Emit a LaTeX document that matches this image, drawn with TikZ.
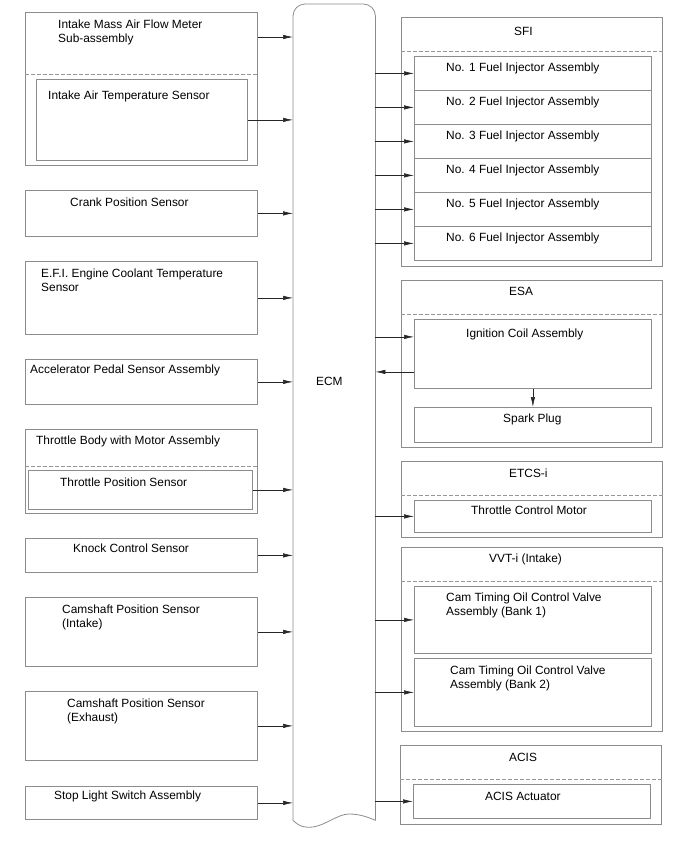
\documentclass[tikz,border=0pt]{standalone}
\usepackage{fontspec}
\setmainfont{Liberation Sans}
\usepackage{tikz}
\usetikzlibrary{positioning,arrows.meta,calc}
\definecolor{framegray}{RGB}{140,140,140}
\definecolor{divgray}{RGB}{150,150,150}

\begin{document}
\begin{tikzpicture}[
  x=1pt,y=-1pt,
  font=\fontsize{11.9}{14}\selectfont,
  unit/.style={rectangle,draw=framegray,line width=0.8pt,inner sep=0pt,anchor=north west,minimum width=#1},
  unit/.default=232,
  part/.style={unit=237},
  txt/.style={anchor=north west,inner sep=0pt,align=left,yshift=-1pt},
  divider/.style={draw=divgray,line width=0.8pt,dash pattern=on 3.5pt off 2.5pt},
  frame/.style={draw=framegray,line width=0.8pt},
  sig/.style={-{Latex[length=10pt,width=4.4pt]},line width=0.6pt,black!85},
]
\useasboundingbox (0,0) rectangle (688,852);

% === ECM ===
\node[inner sep=0pt,minimum width=82,minimum height=816,anchor=north west] (ecm) at (293,4) {};
\draw[frame,rounded corners=12pt] (ecm.south west) -- (ecm.north west) -- (ecm.north east) -- (ecm.south east);
\draw[frame] (ecm.south west) .. controls (300,827) and (306,828) .. (313,827)
  .. controls (326,825) and (338,814) .. (349,814)
  .. controls (359,814) and (368,817) .. (ecm.south east);
\node[txt] (ecm-t) at (316,376) {ECM};

% === LEFT: sensors ===
\node[unit,minimum height=153] (maf) at (25,12) {};
\draw[divider] ($(maf.north west)+(0,62)$) -- ($(maf.north east)+(0,62)$);
\node[unit=211,minimum height=81] (iat) at (36,79) {};
\node[txt] (maf-t) at (58,19) {Intake Mass Air Flow Meter\\Sub-assembly};
\node[txt] (iat-t) at (48,90) {Intake Air Temperature Sensor};

\node[unit,minimum height=46] (crank) at (25,190) {};
\node[txt] (crank-t) at (70,197) {Crank Position Sensor};

\node[unit,minimum height=73] (ect) at (25,261) {};
\node[txt] (ect-t) at (41,268) {E.F.I. Engine Coolant Temperature\\Sensor};

\node[unit,minimum height=45] (accel) at (25,359) {};
\node[txt] (accel-t) at (30,364) {Accelerator Pedal Sensor Assembly};

\node[unit,minimum height=84] (tbody) at (25,429) {};
\draw[divider] ($(tbody.north west)+(0,37)$) -- ($(tbody.north east)+(0,37)$);
\node[unit=224,minimum height=39] (tps) at (28,470) {};
\node[txt] (tbody-t) at (36,435) {Throttle Body with Motor Assembly};
\node[txt] (tps-t) at (60,477) {Throttle Position Sensor};

\node[unit,minimum height=34] (knock) at (25,538) {};
\node[txt] (knock-t) at (73,543) {Knock Control Sensor};

\node[unit,minimum height=69] (camin) at (25,597) {};
\node[txt] (camin-t) at (62,604) {Camshaft Position Sensor\\(Intake)};

\node[unit,minimum height=69] (camex) at (25,691) {};
\node[txt] (camex-t) at (67,698) {Camshaft Position Sensor\\(Exhaust)};

\node[unit,minimum height=33] (stop) at (25,786) {};
\node[txt] (stop-t) at (54,790) {Stop Light Switch Assembly};

% === RIGHT: SFI ===
\node[unit=261,minimum height=249] (sfi) at (401,17) {};
\draw[divider] ($(sfi.north west)+(0,34)$) -- ($(sfi.north east)+(0,34)$);
\node[txt] (sfi-t) at (514,26) {SFI};
\foreach \i in {1,...,6} {
  \node[part,minimum height=34] (inj\i) at (414,{56+34*(\i-1)}) {};
  \node[txt] (inj\i-t) at (446,{62+34*(\i-1)}) {No. \i\ Fuel Injector Assembly};
}

% === RIGHT: ESA ===
\node[unit=261,minimum height=167] (esa) at (401,280) {};
\draw[divider] ($(esa.north west)+(0,34)$) -- ($(esa.north east)+(0,34)$);
\node[txt] (esa-t) at (509,286) {ESA};
\node[part,minimum height=69] (coil) at (414,319) {};
\node[txt] (coil-t) at (466,328) {Ignition Coil Assembly};
\node[part,minimum height=35] (plug) at (414,407) {};
\node[txt] (plug-t) at (503,413) {Spark Plug};

% === RIGHT: ETCS-i ===
\node[unit=261,minimum height=76] (etcs) at (401,461) {};
\draw[divider] ($(etcs.north west)+(0,34)$) -- ($(etcs.north east)+(0,34)$);
\node[txt] (etcs-t) at (509,468) {ETCS-i};
\node[part,minimum height=32] (tcm) at (414,500) {};
\node[txt] (tcm-t) at (471,505) {Throttle Control Motor};

% === RIGHT: VVT-i ===
\node[unit=261,minimum height=184] (vvt) at (401,547) {};
\draw[divider] ($(vvt.north west)+(0,34)$) -- ($(vvt.north east)+(0,34)$);
\node[txt] (vvt-t) at (489,553) {VVT-i (Intake)};
\node[part,minimum height=67] (bank1) at (414,586) {};
\node[txt] (bank1-t) at (446,592) {Cam Timing Oil Control Valve\\Assembly (Bank 1)};
\node[part,minimum height=68] (bank2) at (414,658) {};
\node[txt] (bank2-t) at (450,665) {Cam Timing Oil Control Valve\\Assembly (Bank 2)};

% === RIGHT: ACIS ===
\node[unit=261,minimum height=79] (acis) at (400,745) {};
\draw[divider] ($(acis.north west)+(0,34)$) -- ($(acis.north east)+(0,34)$);
\node[txt] (acis-t) at (509,752) {ACIS};
\node[part,minimum height=34] (act) at (413,784) {};
\node[txt] (act-t) at (485,791) {ACIS Actuator};

% === Signals into the ECM ===
\coordinate (maf-out) at ([yshift=-25pt]maf.north east);
\draw[sig] (maf-out) -- (maf-out -| ecm.west);
\foreach \n in {iat,crank,ect,accel,tps,knock,camin,camex,stop}
  \draw[sig] (\n.east) -- (\n.east -| ecm.west);

% === Signals out of the ECM ===
\foreach \n in {inj1,inj2,inj3,inj4,inj5,inj6,tcm,bank1,bank2,act}
  \draw[sig] (\n.west -| ecm.east) -- (\n.west);
\coordinate (coil-in) at ([yshift=17pt]coil.west);
\coordinate (coil-out) at ([yshift=-18pt]coil.west);
\draw[sig] (coil-in -| ecm.east) -- (coil-in);
\draw[sig] (coil-out) -- (coil-out -| ecm.east);
\draw[sig] (coil.south) -- (plug.north);

\end{tikzpicture}
\end{document}
